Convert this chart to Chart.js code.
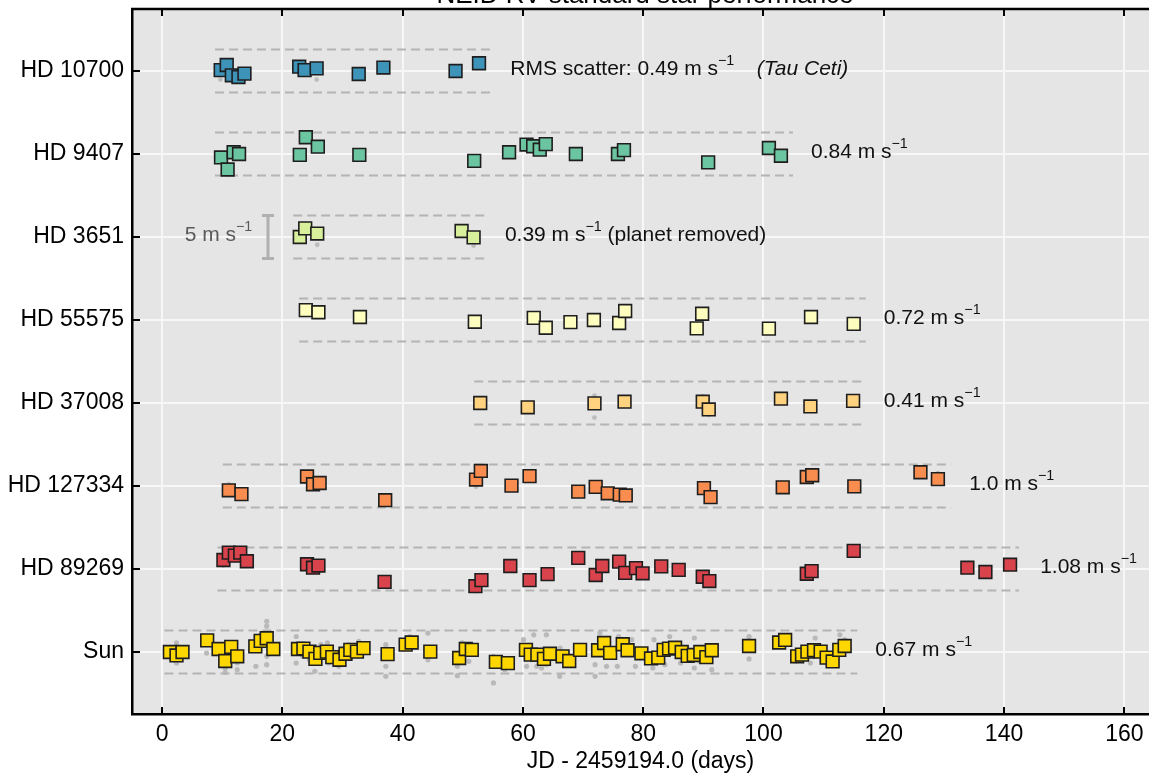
<!DOCTYPE html>
<html>
<head>
<meta charset="utf-8">
<script src="https://cdn.jsdelivr.net/npm/chart.js@4.4.0/dist/chart.umd.min.js"></script>
<style>
  html, body { margin: 0; padding: 0; background: #fff; }
</style>
</head>
<body>
<canvas id="rvChart" width="1149" height="776"></canvas>
<script>
// rows, bottom to top
const stars = ['Sun', 'HD 89269', 'HD 127334', 'HD 37008', 'HD 55575', 'HD 3651', 'HD 9407', 'HD 10700'];
const starColors = ['#ffd700', '#d8434c', '#f88d4f', '#fed27f', '#fefebf', '#d8ef9b', '#6cc5a1', '#3e93b9'];
const rmsValues = ['0.67', '1.08', '1.0', '0.41', '0.72', '0.39', '0.84', '0.49'];
const xTicks = [0, 20, 40, 60, 80, 100, 120, 140, 160];

// dashed +-2.5 m/s band, start/end day for each row
const bandStart = [0.4, 9.2, 10.1, 51.9, 22.8, 21.8, 8.8, 8.8];
const bandEnd = [115.6, 142.5, 131.2, 116.4, 117.0, 53.9, 104.9, 54.9];
const bandHalf = 2.5; // m/s
const rowStep = 9.65; // m/s between rows

// nightly binned RVs (m/s), days since JD 2459194.0
const sunDays = [1.3, 2.4, 3.4, 7.5, 9.4, 10.5, 11.5, 12.5, 15.5, 16.4, 17.4, 18.5, 22.6, 23.5, 24.5, 25.5, 26.3, 27.4, 28.3, 29.5,
  30.5, 31.3, 32.4, 33.5, 37.5, 40.5, 41.5, 44.6, 49.4, 50.5, 51.5, 55.5, 57.5, 60.5, 61.3, 62.4, 63.5, 64.5, 66.6, 67.7,
  69.5, 72.5, 73.5, 74.5, 76.6, 77.4, 79.7, 81.3, 82.5, 83.4, 84.3, 85.3, 86.4, 87.4, 88.4, 89.5, 90.5, 91.4, 97.6, 102.6,
  103.6, 105.6, 106.4, 107.3, 108.4, 109.5, 110.5, 111.5, 112.6, 113.5];
const sunRV = [0, -0.4, 0, 1.35, 0.35, -1.05, 0.6, -0.5, 0.65, 1.3, 1.6, 0.35, 0.35, 0.4, 0.05, -0.8, -0.1, 0.05, -0.6, -0.9,
  -0.2, 0.25, 0.05, 0.45, -0.25, 0.85, 1.1, 0.05, -0.7, 0.35, 0.25, -1.15, -1.3, 0.25, -0.3, -0.3, -0.8, -0.2, -0.5, -1.05,
  0.25, 0.2, 1.05, -0.1, 0.9, 0.2, -0.15, -0.75, -0.65, 0.25, 0.4, 0.5, 0, -0.45, -0.35, 0, -0.6, 0.2, 0.7, 1.1,
  1.4, -0.5, -0.3, 0.05, 0.2, 0.05, -0.65, -1.1, 0.25, 0.7];

const hd89269Days = [10.2, 11.1, 12.1, 13.0, 14.1, 24.1, 25.1, 26.0, 37.0, 52.1, 53.1, 57.9, 61.1, 64.1, 69.2, 72.1, 73.2, 76.0,
  77.0, 78.8, 79.9, 83.0, 85.9, 89.9, 91.0, 107.2, 108.0, 115.0, 133.9, 136.9, 141.0];
const hd89269RV = [1.05, 1.9, 1.55, 1.9, 0.9, 0.55, 0.15, 0.4, -1.5, -2.0, -1.3, 0.35, -1.3, -0.6, 1.3, -0.7, 0.35, 0.85,
  -0.45, 0.1, -0.5, 0.3, -0.1, -0.9, -1.4, -0.55, -0.25, 2.1, 0.15, -0.35, 0.5];

const hd127334Days = [11.1, 13.2, 24.1, 25.1, 26.2, 37.1, 52.2, 53.0, 58.1, 61.1, 69.2, 72.1, 74.1, 76.1, 77.1, 90.1, 91.2,
  103.2, 107.2, 108.1, 115.1, 126.1, 129.0];
const hd127334RV = [-0.5, -0.95, 1.1, 0.2, 0.35, -1.65, 0.75, 1.75, 0.05, 1.15, -0.65, -0.1, -0.85, -1.0, -1.1, -0.25, -1.3,
  -0.15, 1.05, 1.25, -0.05, 1.6, 0.8];

const hd37008Days = [52.9, 60.8, 71.9, 76.9, 89.9, 90.9, 102.9, 107.8, 114.9];
const hd37008RV = [0, -0.5, -0.05, 0.15, 0.15, -0.75, 0.5, -0.4, 0.25];

const hd55575Days = [23.9, 26.0, 32.9, 52.0, 61.8, 63.8, 67.9, 71.8, 76.0, 77.0, 88.9, 89.8, 100.9, 107.9, 115.0];
const hd55575RV = [1.15, 0.9, 0.35, -0.2, 0.25, -0.9, -0.25, 0, -0.35, 1.05, -0.97, 0.73, -1.0, 0.35, -0.45];

const hd3651Days = [22.9, 23.8, 25.8, 49.8, 51.8];
const hd3651RV = [0, 1.0, 0.4, 0.7, -0.05];

const hd9407Days = [9.8, 10.9, 11.9, 12.8, 22.9, 23.9, 25.9, 32.8, 51.9, 57.7, 60.6, 61.7, 62.8, 63.8, 68.8, 75.8, 76.8,
  90.8, 100.9, 102.9];
const hd9407RV = [-0.4, -1.8, 0.2, 0, -0.1, 1.95, 0.85, -0.1, -0.8, 0.2, 1.1, 0.9, 0.5, 1.15, 0, 0, 0.45, -0.97, 0.7, -0.2];

const hd10700Days = [9.75, 10.75, 11.6, 12.7, 13.7, 22.8, 23.7, 25.7, 32.7, 36.8, 48.8, 52.7];
const hd10700RV = [0.1, 0.7, -0.5, -0.7, -0.3, 0.5, 0.1, 0.3, -0.35, 0.4, 0, 0.9];

// individual solar exposures (grey dots)
const sunExpDays = [2.4, 2.4, 7.4, 10.5, 10.5, 12.5, 12.5, 15.6, 15.6, 16.4, 17.4, 17.4, 17.4, 17.4, 22.3, 22.3, 23.4, 24.5,
  25.4, 26.4, 27.5, 27.7, 29.4, 31.0, 32.7, 33.2, 37.2, 37.2, 37.2, 41.2, 44.2, 44.2, 49.1, 49.1, 49.9, 51.0, 55.1, 55.1,
  57.0, 60.1, 60.6, 61.8, 62.3, 63.1, 63.9, 63.9, 66.1, 66.2, 72.0, 72.0, 72.8, 73.9, 75.9, 75.7, 78.1, 78.7, 81.6, 81.8,
  83.6, 84.4, 86.2, 88.5, 88.5, 89.4, 91.4, 97.6, 97.6, 102.0, 105.4, 108.6, 107.8, 110.7, 111.9, 112.7, 113.5];
const sunExpRV = [1.05, -1.28, -0.12, -2.36, -1.86, -2.05, -1.28, -1.67, 1.8, 2.0, 3.57, 3.0, -0.5, -1.47, 1.8, -1.28, -0.5, -0.9,
  -2.25, 0.85, 1.05, -1.28, -1.67, 0.85, 1.24, -0.3, 0.85, -2.83, -1.67, 1.8, 2.2, -0.9, -1.67, -2.75, 1.05, -1.08, -0.5, -3.6,
  -2.05, 1.43, -1.67, 2.0, -1.67, -1.86, 2.0, -1.47, -2.83, 0.46, -2.83, -1.47, 2.2, -1.67, 1.8, -1.67, 1.43, -1.67, -1.86, 1.43,
  -1.47, 1.8, -1.28, 1.63, -1.86, -1.08, -2.05, 1.8, -0.8, 1.05, -1.08, 1.63, -1.28, -1.47, -0.7, 2.0, 1.43];

// a few individual exposures of the other stars
const expRow = [7, 7, 7, 7, 3, 3, 3, 3, 3, 6, 6, 5, 5, 2, 2, 2, 2, 1, 1, 1, 1];
const expDays = [9.7, 25.7, 36.8, 52.7, 71.9, 71.9, 89.9, 90.9, 102.9, 10.9, 75.8, 25.8, 51.8, 11.1, 24.1, 52.2, 129.0,
  10.2, 52.1, 57.9, 89.9];
const expRV = [-1.0, -1.0, 1.0, 1.5, 0.85, -1.7, 0.8, -1.4, 1.0, -2.4, 0.7, -0.9, -1.0, 0.2, 1.6, -0.1, 1.5, 0.4, -2.6, 0.9, -1.5];

const starDays = [sunDays, hd89269Days, hd127334Days, hd37008Days, hd55575Days, hd3651Days, hd9407Days, hd10700Days];
const starRV = [sunRV, hd89269RV, hd127334RV, hd37008RV, hd55575RV, hd3651RV, hd9407RV, hd10700RV];

const FAMILY = "'Liberation Sans', Arial, sans-serif";

const toPts = (days, rv, row) => days.map((d, i) => ({ x: d, y: row * rowStep + rv[i] }));

const datasets = [];
starDays.forEach((days, row) => {
  datasets.push({
    data: toPts(days, starRV[row], row),
    backgroundColor: starColors[row],
    borderColor: '#1e1e1e',
    borderWidth: 1.6,
    pointStyle: 'rect',
    pointRadius: 9,
    pointHoverRadius: 9,
    order: 1
  });
  [1, -1].forEach(s => {
    datasets.push({
      data: [{ x: bandStart[row], y: row * rowStep + s * bandHalf }, { x: bandEnd[row], y: row * rowStep + s * bandHalf }],
      showLine: true,
      borderColor: '#b4b4b4',
      borderWidth: 2,
      borderDash: [9, 5],
      pointRadius: 0,
      order: 2
    });
  });
});
datasets.push({
  data: toPts(sunExpDays, sunExpRV, 0),
  backgroundColor: '#b9b9b9',
  borderWidth: 0,
  pointRadius: 2.6,
  order: 3
});
datasets.push({
  data: expDays.map((d, i) => ({ x: d, y: expRow[i] * rowStep + expRV[i] })),
  backgroundColor: '#bdbdbd',
  borderWidth: 0,
  pointRadius: 2.4,
  order: 3
});

// text with a superscript part
function richText(ctx, x, y, parts, size, color, align) {
  ctx.fillStyle = color;
  ctx.textBaseline = 'middle';
  ctx.textAlign = 'left';
  const fontOf = p => (p.italic ? 'italic ' : '') + (p.sup ? size * 0.68 : size) + 'px ' + FAMILY;
  let w = 0;
  parts.forEach(p => { ctx.font = fontOf(p); w += ctx.measureText(p.t).width; });
  let cx = align === 'right' ? x - w : x;
  parts.forEach(p => {
    ctx.font = fontOf(p);
    ctx.fillText(p.t, cx, p.sup ? y - size * 0.38 : y);
    cx += ctx.measureText(p.t).width;
  });
}

const labelX = [118.6, 146.0, 134.2, 120.0, 120.0, 57.0, 107.9, 57.9];

const decor = {
  id: 'decor',
  beforeDraw(chart) {
    const { ctx, chartArea: a } = chart;
    ctx.save();
    ctx.fillStyle = '#e5e5e5';
    ctx.fillRect(a.left, a.top, a.right - a.left, a.bottom - a.top);
    ctx.restore();
  },
  afterDraw(chart) {
    const { ctx, chartArea: a, scales: { x, y } } = chart;
    ctx.save();

    // title, clipped by the top edge as in the source
    ctx.fillStyle = '#000';
    ctx.font = '26px ' + FAMILY;
    ctx.textAlign = 'center';
    ctx.textBaseline = 'alphabetic';
    ctx.fillText('NEID RV standard star performance', x.getPixelForValue(80.3), 3);

    // top frame line + inward ticks
    ctx.strokeStyle = '#000';
    ctx.lineWidth = 2.5;
    ctx.beginPath();
    ctx.moveTo(a.left - 1, a.top);
    ctx.lineTo(a.right, a.top);
    ctx.stroke();
    ctx.lineWidth = 2;
    ctx.beginPath();
    xTicks.forEach(v => {
      const px = Math.round(x.getPixelForValue(v));
      ctx.moveTo(px, a.bottom); ctx.lineTo(px, a.bottom - 7);
      ctx.moveTo(px, a.top); ctx.lineTo(px, a.top + 7);
    });
    stars.forEach((s, row) => {
      const py = Math.round(y.getPixelForValue(row * rowStep));
      ctx.moveTo(a.left, py); ctx.lineTo(a.left + 8, py);
    });
    ctx.stroke();

    // rms labels
    stars.forEach((s, row) => {
      const py = y.getPixelForValue(row * rowStep) - 2;
      const parts = [{ t: (row === 7 ? 'RMS scatter: ' : '') + rmsValues[row] + ' m s' }, { t: '\u22121', sup: true }];
      if (row === 5) parts.push({ t: ' (planet removed)' });
      richText(ctx, x.getPixelForValue(labelX[row]), py, parts, 21, '#111', 'left');
    });
    richText(ctx, x.getPixelForValue(98.9), y.getPixelForValue(7 * rowStep) - 2, [{ t: '(Tau Ceti)', italic: true }], 21, '#111', 'left');

    // 5 m/s scale bar next to HD 3651
    const bx = Math.round(x.getPixelForValue(17.6));
    const y1 = y.getPixelForValue(5 * rowStep + bandHalf);
    const y2 = y.getPixelForValue(5 * rowStep - bandHalf);
    ctx.strokeStyle = '#b0b0b0';
    ctx.lineWidth = 3;
    ctx.beginPath();
    ctx.moveTo(bx, y1); ctx.lineTo(bx, y2);
    ctx.moveTo(bx - 6, y1); ctx.lineTo(bx + 6, y1);
    ctx.moveTo(bx - 6, y2); ctx.lineTo(bx + 6, y2);
    ctx.stroke();
    richText(ctx, x.getPixelForValue(15.0), y.getPixelForValue(5 * rowStep) - 2, [{ t: '5 m s' }, { t: '\u22121', sup: true }], 21, '#5a5a5a', 'right');

    ctx.restore();
  }
};

new Chart(document.getElementById('rvChart'), {
  type: 'scatter',
  data: { datasets },
  plugins: [decor],
  options: {
    responsive: false,
    animation: false,
    devicePixelRatio: 1,
    layout: { autoPadding: false, padding: { top: 9, left: 0, right: 0, bottom: 0 } },
    plugins: { legend: { display: false }, tooltip: { enabled: false } },
    scales: {
      x: {
        type: 'linear',
        min: -5,
        max: 164.1,
        afterBuildTicks: s => { s.ticks = xTicks.map(v => ({ value: v })); },
        afterFit: s => { s.height = 62; s.paddingLeft = 0; s.paddingRight = 0; },
        grid: { color: '#f7f7f7', lineWidth: 2, drawTicks: false },
        border: { color: '#000', width: 2.5 },
        ticks: { color: '#000', padding: 7, font: { family: FAMILY, size: 23 } },
        title: {
          display: true,
          text: 'JD - 2459194.0 (days)',
          color: '#000',
          font: { family: FAMILY, size: 23 },
          padding: { top: 0, bottom: 1 }
        }
      },
      y: {
        type: 'linear',
        min: -0.747 * rowStep,
        max: 7.747 * rowStep,
        afterBuildTicks: s => { s.ticks = stars.map((n, i) => ({ value: i * rowStep })); },
        afterFit: s => { s.width = 132; s.paddingTop = 0; s.paddingBottom = 0; },
        grid: { color: '#f7f7f7', lineWidth: 2, drawTicks: false },
        border: { color: '#000', width: 2.5 },
        ticks: {
          color: '#000',
          padding: 8,
          font: { family: FAMILY, size: 23 },
          callback: (v, i) => stars[i]
        }
      }
    }
  }
});
</script>
</body>
</html>
